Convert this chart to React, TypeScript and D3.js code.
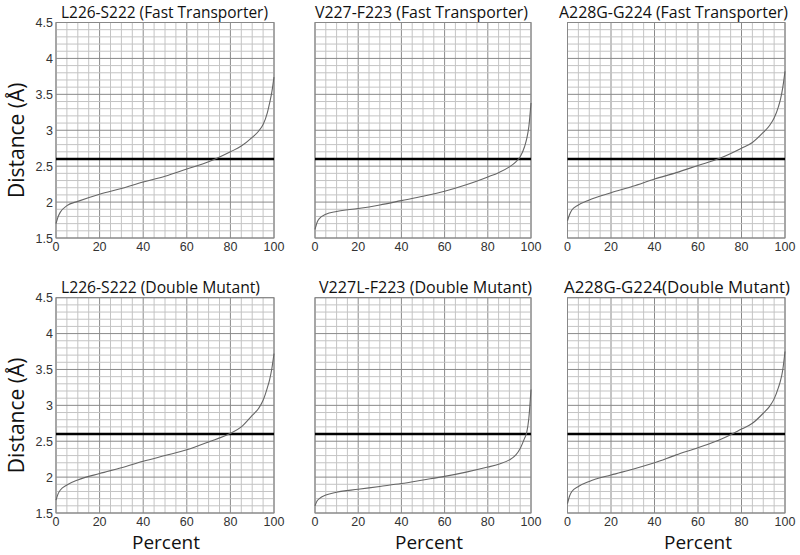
import React from "react";
import * as d3 from "d3";

const percents = [0, 1, 2, 5, 10, 20, 30, 40, 50, 60, 70, 80, 85, 90, 93, 95, 97, 98, 99, 100];

const titles = [
  "L226-S222 (Fast Transporter)",
  "V227-F223 (Fast Transporter)",
  "A228G-G224 (Fast Transporter)",
  "L226-S222 (Double Mutant)",
  "V227L-F223 (Double Mutant)",
  "A228G-G224(Double Mutant)",
];

const l226Fast = [1.70, 1.80, 1.86, 1.95, 2.01, 2.11, 2.19, 2.28, 2.36, 2.46, 2.56, 2.70, 2.78, 2.90, 2.99, 3.08, 3.25, 3.38, 3.53, 3.74];
const v227Fast = [1.62, 1.72, 1.77, 1.83, 1.87, 1.91, 1.96, 2.02, 2.08, 2.15, 2.24, 2.35, 2.41, 2.49, 2.56, 2.63, 2.77, 2.88, 3.05, 3.38];
const a228Fast = [1.74, 1.83, 1.89, 1.96, 2.03, 2.13, 2.22, 2.32, 2.41, 2.51, 2.61, 2.75, 2.83, 2.97, 3.07, 3.17, 3.33, 3.44, 3.60, 3.82];
const l226Double = [1.68, 1.77, 1.82, 1.89, 1.96, 2.05, 2.13, 2.22, 2.30, 2.38, 2.49, 2.61, 2.70, 2.86, 2.96, 3.07, 3.25, 3.36, 3.51, 3.72];
const v227Double = [1.60, 1.67, 1.70, 1.75, 1.79, 1.83, 1.87, 1.91, 1.96, 2.01, 2.07, 2.14, 2.18, 2.24, 2.31, 2.40, 2.54, 2.62, 2.82, 3.22];
const a228Double = [1.63, 1.74, 1.80, 1.87, 1.94, 2.03, 2.11, 2.20, 2.31, 2.41, 2.52, 2.67, 2.75, 2.89, 2.99, 3.09, 3.25, 3.35, 3.50, 3.75];

const seriesList = [l226Fast, v227Fast, a228Fast, l226Double, v227Double, a228Double];

const xTicks = [0, 20, 40, 60, 80, 100];
const yTicks = [1.5, 2, 2.5, 3, 3.5, 4, 4.5];
const threshold = 2.6;

const panelX = [[56, 274], [315, 531], [567.5, 785]];
const panelY = [[22.5, 238], [297.7, 513]];
const titleSpans = [[61, 268], [315, 528], [559, 788], [61, 260], [319, 532], [564, 790]];
const percentCenters = [166, 429, 698];

function Panel({ idx }: { idx: number }) {
  const col = idx % 3;
  const row = Math.floor(idx / 3);
  const x = d3.scaleLinear().domain([0, 100]).range(panelX[col]);
  const y = d3.scaleLinear().domain([1.5, 4.5]).range([panelY[row][1], panelY[row][0]]);
  const minorX = d3.range(0, 101, 5);
  const minorY = d3.range(15, 46, 1).map((v) => v / 10);
  const values = seriesList[idx];
  const pts = percents.map((p, i) => [p, values[i]] as [number, number]);
  const line = d3
    .line<[number, number]>()
    .x((d) => x(d[0]))
    .y((d) => y(d[1]))
    .curve(d3.curveMonotoneX);
  const [t0, t1] = titleSpans[idx];
  return (
    <g>
      {minorX.map((v) => (
        <line key={"mx" + v} x1={x(v)} x2={x(v)} y1={y(1.5)} y2={y(4.5)}
          stroke={v % 20 === 0 ? "#8a8a8a" : "#c4c4c4"} strokeWidth={1} />
      ))}
      {minorY.map((v) => (
        <line key={"my" + v} x1={x(0)} x2={x(100)} y1={y(v)} y2={y(v)}
          stroke={Math.round(v * 10) % 5 === 0 ? "#8a8a8a" : "#c4c4c4"} strokeWidth={1} />
      ))}
      <rect x={x(0)} y={y(4.5)} width={x(100) - x(0)} height={y(1.5) - y(4.5)}
        fill="none" stroke="#888" strokeWidth={1} />
      <line x1={x(0)} x2={x(100)} y1={y(threshold)} y2={y(threshold)} stroke="#000" strokeWidth={2.5} />
      <path d={line(pts) || ""} fill="none" stroke="#666" strokeWidth={1.1} />
      <text x={(t0 + t1) / 2} y={panelY[row][0] - 5} textAnchor="middle" fontSize={16}
        fontFamily="'Open Sans', sans-serif" fill="#111" textLength={t1 - t0} lengthAdjust="spacingAndGlyphs">
        {titles[idx]}
      </text>
      {xTicks.map((t) => (
        <text key={"xt" + t} x={x(t)} y={y(1.5) + 13} textAnchor="middle" fontSize={12.5}
          fontFamily="'Liberation Sans', Arial, sans-serif" fill="#333">
          {t}
        </text>
      ))}
      {col === 0 &&
        yTicks.map((t) => (
          <text key={"yt" + t} x={x(0) - 3} y={y(t) + 4.5} textAnchor="end" fontSize={12.5}
            fontFamily="'Liberation Sans', Arial, sans-serif" fill="#333">
            {String(t)}
          </text>
        ))}
      {col === 0 && (
        <text transform={`translate(24,${(panelY[row][0] + panelY[row][1]) / 2 + 10}) rotate(-90)`}
          textAnchor="middle" fontSize={21} fontFamily="'Open Sans', sans-serif" fill="#111">
          Distance (Å)
        </text>
      )}
      {row === 1 && (
        <text x={percentCenters[col]} y={549} textAnchor="middle" fontSize={19}
          fontFamily="'Open Sans', sans-serif" fill="#111">
          Percent
        </text>
      )}
    </g>
  );
}

export default function App() {
  return (
    <svg width={800} height={555} style={{ position: "absolute", left: 0, top: 0, background: "#fff" }}>
      <rect width={800} height={555} fill="#fff" />
      {[0, 1, 2, 3, 4, 5].map((i) => (
        <Panel key={i} idx={i} />
      ))}
    </svg>
  );
}
